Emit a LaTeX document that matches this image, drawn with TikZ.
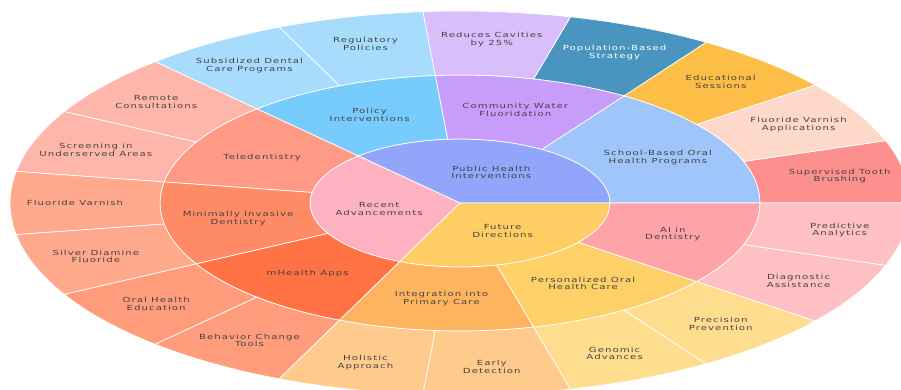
\documentclass[tikz,border=0pt]{standalone}
\usepackage{fontspec}
\newfontfamily\lblfont[FakeStretch=1.45,LetterSpace=15]{DejaVu Sans}
\definecolor{lbl}{HTML}{444444}
\definecolor{cPH}{RGB}{145,165,251}
\definecolor{cRA}{RGB}{254,178,193}
\definecolor{cFD}{RGB}{254,205,100}
\definecolor{cSB}{RGB}{160,197,250}
\definecolor{cCW}{RGB}{200,156,250}
\definecolor{cPI}{RGB}{120,203,253}
\definecolor{cTD}{RGB}{254,154,134}
\definecolor{cMI}{RGB}{254,138,102}
\definecolor{cMH}{RGB}{254,114,68}
\definecolor{cIP}{RGB}{254,180,94}
\definecolor{cPO}{RGB}{254,208,104}
\definecolor{cAI}{RGB}{254,164,168}
\definecolor{cST}{RGB}{254,143,143}
\definecolor{cFA}{RGB}{254,217,201}
\definecolor{cES}{RGB}{253,190,72}
\definecolor{cPB}{RGB}{74,149,192}
\definecolor{cRC}{RGB}{217,190,252}
\definecolor{cRP}{RGB}{167,220,253}
\definecolor{cTL}{RGB}{254,181,170}
\definecolor{cMIL}{RGB}{254,169,140}
\definecolor{cMHL}{RGB}{254,156,124}
\definecolor{cIPL}{RGB}{254,203,140}
\definecolor{cPOL}{RGB}{254,221,142}
\definecolor{cAIL}{RGB}{254,192,194}
\tikzset{
  lbl/.style={font=\lblfont\fontsize{7}{7.7}\selectfont, align=center, inner sep=0pt},
  wedgefill/.style={draw=white, line width=0.7pt, line join=round}
}
\newcommand\sbsec[9]{%
  \pgfmathsetmacro\sa{#4*360/19}%
  \pgfmathsetmacro\sb{#5*360/19}%
  \pgfmathsetmacro\sm{(\sa+\sb)/2}%
  \path[wedgefill, fill=#6] (\sa:#2) arc[start angle=\sa, end angle=\sb, radius=#2]
     -- (\sb:#3) arc[start angle=\sb, end angle=\sa, radius=#3] -- cycle;
  \node[lbl, text=#7] (#1) at (\sm:#9) {#8};
}
\begin{document}
\begin{tikzpicture}[x=1pt, y=1pt]
\useasboundingbox (0,0) rectangle (901,389);
\clip (0,0) rectangle (901,389);
\fill[white] (0,0) rectangle (901,389);
\begin{scope}[shift={(460,186)}, yscale=0.4267]
% inner ring
\sbsec{ph}{0.01}{150}{0}{7}{cPH}{lbl}{Public Health\\Interventions}{78}
\sbsec{ra}{0.01}{150}{7}{13}{cRA}{lbl}{Recent\\Advancements}{82}
\sbsec{fd}{0.01}{150}{13}{19}{cFD}{lbl}{Future\\Directions}{78}
% middle ring
\sbsec{sb}{150}{300}{0}{3}{cSB}{lbl}{School-Based Oral\\Health Programs}{225}
\sbsec{cw}{150}{300}{3}{5}{cCW}{lbl}{Community Water\\Fluoridation}{225}
\sbsec{pi}{150}{300}{5}{7}{cPI}{lbl}{Policy\\Interventions}{225}
\sbsec{td}{150}{300}{7}{9}{cTD}{lbl}{Teledentistry}{225}
\sbsec{mi}{150}{300}{9}{11}{cMI}{lbl}{Minimally Invasive\\Dentistry}{225}
\sbsec{mh}{150}{300}{11}{13}{cMH}{lbl}{mHealth Apps}{225}
\sbsec{ip}{150}{300}{13}{15}{cIP}{lbl}{Integration into\\Primary Care}{225}
\sbsec{po}{150}{300}{15}{17}{cPO}{lbl}{Personalized Oral\\Health Care}{225}
\sbsec{ai}{150}{300}{17}{19}{cAI}{lbl}{AI in\\Dentistry}{225}
% outer ring
\sbsec{st}{300}{450}{0}{1}{cST}{lbl}{Supervised Tooth\\Brushing}{385}
\sbsec{fa}{300}{450}{1}{2}{cFA}{lbl}{Fluoride Varnish\\Applications}{385}
\sbsec{es}{300}{450}{2}{3}{cES}{lbl}{Educational\\Sessions}{385}
\sbsec{pb}{300}{450}{3}{4}{cPB}{white}{Population-Based\\Strategy}{385}
\sbsec{rc}{300}{450}{4}{5}{cRC}{lbl}{Reduces Cavities\\by 25\%}{385}
\sbsec{rp}{300}{450}{5}{6}{cRP}{lbl}{Regulatory\\Policies}{385}
\sbsec{sd}{300}{450}{6}{7}{cRP}{lbl}{Subsidized Dental\\Care Programs}{385}
\sbsec{rm}{300}{450}{7}{8}{cTL}{lbl}{Remote\\Consultations}{385}
\sbsec{su}{300}{450}{8}{9}{cTL}{lbl}{Screening in\\Underserved Areas}{385}
\sbsec{fv}{300}{450}{9}{10}{cMIL}{lbl}{Fluoride Varnish}{385}
\sbsec{sdf}{300}{450}{10}{11}{cMIL}{lbl}{Silver Diamine\\Fluoride}{385}
\sbsec{oh}{300}{450}{11}{12}{cMHL}{lbl}{Oral Health\\Education}{385}
\sbsec{bc}{300}{450}{12}{13}{cMHL}{lbl}{Behavior Change\\Tools}{385}
\sbsec{ha}{300}{450}{13}{14}{cIPL}{lbl}{Holistic\\Approach}{385}
\sbsec{ed}{300}{450}{14}{15}{cIPL}{lbl}{Early\\Detection}{385}
\sbsec{ga}{300}{450}{15}{16}{cPOL}{lbl}{Genomic\\Advances}{385}
\sbsec{pp}{300}{450}{16}{17}{cPOL}{lbl}{Precision\\Prevention}{385}
\sbsec{da}{300}{450}{17}{18}{cAIL}{lbl}{Diagnostic\\Assistance}{385}
\sbsec{pa}{300}{450}{18}{19}{cAIL}{lbl}{Predictive\\Analytics}{385}
\end{scope}
\end{tikzpicture}
\end{document}
